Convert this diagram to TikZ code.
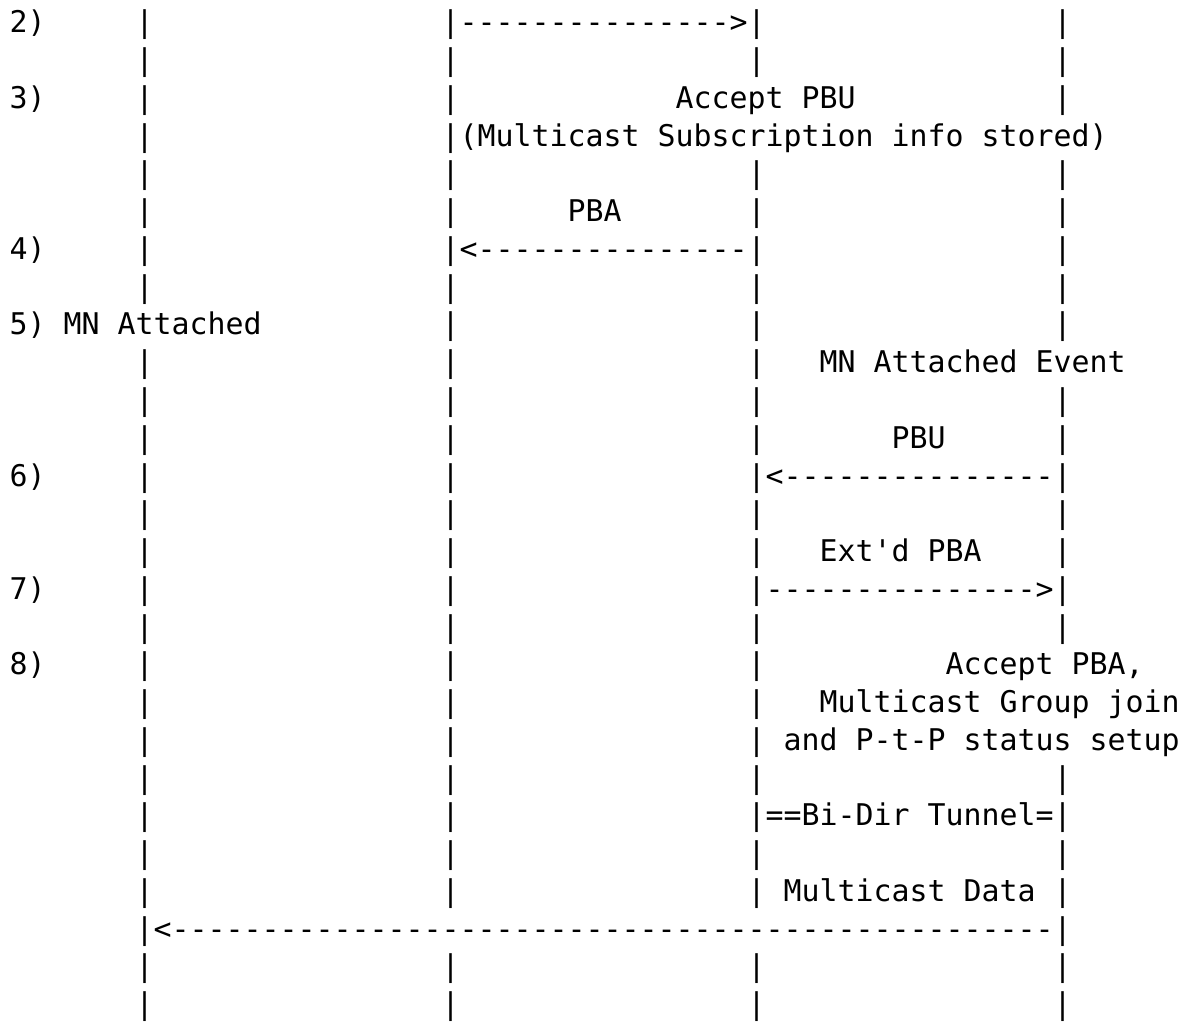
\documentclass[tikz,border=0pt]{standalone}
\usepackage{fontspec}
\setmonofont{DejaVu Sans Mono}
\usetikzlibrary{positioning}
\tikzstyle{every picture}=[x=9pt, y=-18.875pt]
\tikzstyle{ascii}=[anchor=base west, inner sep=0pt, outer sep=0pt,%
	font=\ttfamily\fontsize{14.95pt}{18pt}\selectfont]

\begin{document}
\begin{tikzpicture}
\useasboundingbox (0pt,0pt) rectangle (598pt,-511pt);
\begin{scope}[shift={(4.8pt,-16.5pt)}]
% life lines, one bar per text row
\foreach \r in {0,...,7,9,10,...,26}
	\node[ascii] (mn-\r) at (7,\r) {|};
\foreach \r in {0,...,23,25,26}
	\node[ascii] (pmag-\r) at (24,\r) {|};
\foreach \r in {0,1,4,5,...,23,25,26}
	\node[ascii] (lma-\r) at (41,\r) {|};
\foreach \r in {0,1,2,4,5,...,8,10,11,...,16,20,21,...,26}
	\node[ascii] (nmag-\r) at (58,\r) {|};
% step numbers
\node[ascii] (n2) at (0,0) {2)};
\node[ascii] (n3) at (0,2) {3)};
\node[ascii] (n4) at (0,6) {4)};
\node[ascii] (n5) at (0,8) {5) MN Attached};
\node[ascii] (n6) at (0,12) {6)};
\node[ascii] (n7) at (0,15) {7)};
\node[ascii] (n8) at (0,17) {8)};
% messages
\node[ascii] (pbu1) at (25,0) {--------------->};
\node[ascii] (acc1) at (37,2) {Accept PBU};
\node[ascii] (info) at (25,3) {(Multicast Subscription info stored)};
\node[ascii] (pba1lbl) at (31,5) {PBA};
\node[ascii] (pba1) at (25,6) {<---------------};
\node[ascii] (event) at (45,9) {MN Attached Event};
\node[ascii] (pbu2lbl) at (49,11) {PBU};
\node[ascii] (pbu2) at (42,12) {<---------------};
\node[ascii] (pba2lbl) at (45,14) {Ext'd PBA};
\node[ascii] (pba2) at (42,15) {--------------->};
\node[ascii] (acc2) at (52,17) {Accept PBA,};
\node[ascii] (join) at (45,18) {Multicast Group join};
\node[ascii] (setup) at (43,19) {and P-t-P status setup};
\node[ascii] (tunnel) at (42,21) {==Bi-Dir Tunnel=};
\node[ascii] (datalbl) at (43,23) {Multicast Data};
\node[ascii] (data) at (8,24) {<-------------------------------------------------};
\end{scope}
\end{tikzpicture}
\end{document}
